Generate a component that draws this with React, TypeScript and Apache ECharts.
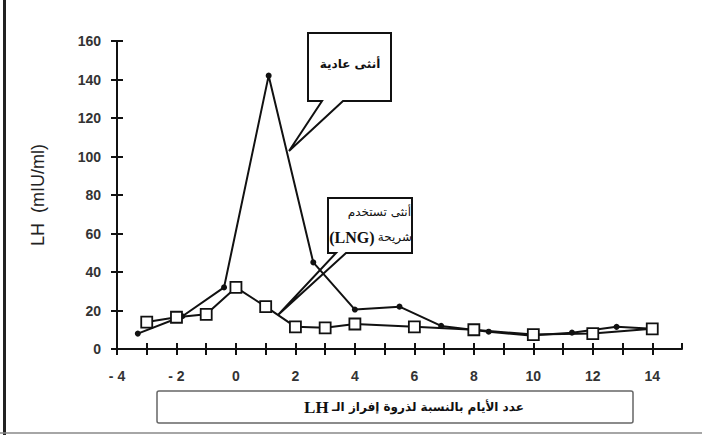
import React, { useEffect, useRef } from "react";
import * as echarts from "echarts";

// Days relative to the LH peak, LH in mIU/ml
const normalDays = [-3.3, -1.8, -0.4, 1.1, 2.6, 4.0, 5.5, 6.9, 8.5, 9.9, 11.3, 12.8, 14];
const normalLH = [8, 17, 32, 142, 45, 20.5, 22, 12, 9, 7, 8.5, 11.5, 10.5];
const lngDays = [-3, -2, -1, 0, 1, 2, 3, 4, 6, 8, 10, 12, 14];
const lngLH = [14, 16.5, 18, 32, 22, 11.5, 11, 13, 11.5, 10, 7.5, 8, 10.5];
const xTickLabels = ["- 4", "- 2", "0", "2", "4", "6", "8", "10", "12", "14"];
const xLabelValues = [-4, -2, 0, 2, 4, 6, 8, 10, 12, 14];

const yAxisName = "LH  (mIU/ml)";
const calloutNormal = "أنثى عادية";
const calloutLng1 = "أنثى تستخدم";
const calloutLng2 = "شريحة";
const xTitleArabic = "عدد الأيام بالنسبة لذروة إفراز الـ";

export default function App() {
  const ref = useRef<HTMLDivElement>(null);
  useEffect(() => {
    if (!ref.current) return;
    const chart = echarts.init(ref.current, undefined, { renderer: "svg" });
    const ink = "#111";
    const xLabel = (v: number) => {
      const i = xLabelValues.indexOf(v);
      return i >= 0 ? xTickLabels[i] : "";
    };
    const axisLabelStyle = { color: "#333", fontFamily: "Arial, Liberation Sans, sans-serif", fontWeight: "bold" as const, fontSize: 14 };
    const arabicFont = "DejaVu Sans, Noto Sans, sans-serif";
    chart.setOption({
      animation: false,
      grid: { left: 117, right: 20, top: 41, bottom: 86 },
      xAxis: [
        {
          type: "value", min: -4, max: 15, interval: 1,
          axisLine: { onZero: false, lineStyle: { color: ink, width: 2 } },
          axisTick: { show: true, length: 6, lineStyle: { color: ink, width: 2 } },
          axisLabel: { ...axisLabelStyle, margin: 20, formatter: xLabel, showMaxLabel: false },
          splitLine: { show: false },
        },
        {
          type: "value", min: -4, max: 15, interval: 1, position: "bottom",
          axisLine: { show: false, onZero: false },
          axisTick: { show: true, inside: true, length: 6, lineStyle: { color: ink, width: 2 } },
          axisLabel: { show: false },
          splitLine: { show: false },
        },
      ],
      yAxis: [
        {
          type: "value", min: 0, max: 160, interval: 20,
          name: yAxisName, nameLocation: "middle", nameGap: 70, nameRotate: 90,
          nameTextStyle: { fontFamily: "Arial, Liberation Sans, sans-serif", fontSize: 18, color: "#222" },
          axisLine: { show: true, onZero: false, lineStyle: { color: ink, width: 2 } },
          axisTick: { show: true, length: 6, lineStyle: { color: ink, width: 2 } },
          axisLabel: { ...axisLabelStyle, margin: 16 },
          splitLine: { show: false },
        },
        {
          type: "value", min: 0, max: 160, interval: 20, position: "left",
          axisLine: { show: false, onZero: false },
          axisTick: { show: true, inside: true, length: 6, lineStyle: { color: ink, width: 2 } },
          axisLabel: { show: false },
          splitLine: { show: false },
        },
      ],
      series: [
        {
          type: "line", z: 3,
          data: normalDays.map((d, i) => ({
            value: [d, normalLH[i]],
            symbol: i === normalDays.length - 1 ? "none" : "circle",
          })),
          symbolSize: 6,
          itemStyle: { color: ink },
          lineStyle: { color: ink, width: 2 },
        },
        {
          type: "line", z: 4,
          data: lngDays.map((d, i) => [d, lngLH[i]]),
          symbol: "rect", symbolSize: 11,
          itemStyle: { color: "#fff", borderColor: ink, borderWidth: 1.8 },
          lineStyle: { color: ink, width: 2 },
        },
      ],
      graphic: [
        { type: "line", z: 1, shape: { x1: 4.5, y1: 0, x2: 4.5, y2: 435 }, style: { stroke: "#222", lineWidth: 3 } },
        { type: "line", z: 1, shape: { x1: 0, y1: 433, x2: 702, y2: 433 }, style: { stroke: "#888", lineWidth: 1.5 } },
        {
          type: "polygon", z: 1,
          shape: { points: [[308, 33], [391, 33], [391, 101], [343, 101], [289, 151], [322, 101], [308, 101]] },
          style: { fill: "#fff", stroke: ink, lineWidth: 2 },
        },
        {
          type: "text", z: 5, x: 350, y: 64,
          style: { text: calloutNormal, fontFamily: arabicFont, fontWeight: "bold", fontSize: 12, fill: "#111", align: "center", verticalAlign: "middle" },
        },
        {
          type: "polygon", z: 1,
          shape: { points: [[328, 198], [412, 198], [412, 253], [346, 253], [278, 315], [336, 253], [328, 253]] },
          style: { fill: "#fff", stroke: ink, lineWidth: 2 },
        },
        {
          type: "text", z: 5, x: 411, y: 212,
          style: { text: calloutLng1, fontFamily: arabicFont, fontSize: 12, fill: "#111", align: "right", verticalAlign: "middle" },
        },
        {
          type: "text", z: 5, x: 412, y: 237,
          style: {
            text: "{l|(LNG)} {a|" + calloutLng2 + "}",
            align: "right", verticalAlign: "middle",
            rich: {
              l: { fontFamily: "Liberation Serif, Times New Roman, serif", fontWeight: "bold", fontSize: 16, fill: "#111" },
              a: { fontFamily: arabicFont, fontSize: 12, fill: "#111" },
            },
          },
        },
        {
          type: "rect", z: 1,
          shape: { x: 157, y: 391, width: 476, height: 32, r: 2 },
          style: { fill: "#fff", stroke: "#666", lineWidth: 1.5 },
        },
        {
          type: "text", z: 5, x: 414, y: 407,
          style: {
            text: "{l|LH} {a|" + xTitleArabic + "}",
            align: "center", verticalAlign: "middle",
            rich: {
              l: { fontFamily: "Liberation Serif, Times New Roman, serif", fontWeight: "bold", fontSize: 17, fill: "#111" },
              a: { fontFamily: arabicFont, fontWeight: "bold", fontSize: 12, fill: "#111" },
            },
          },
        },
      ],
    });
    return () => chart.dispose();
  }, []);
  return <div ref={ref} style={{ position: "fixed", left: 0, top: 0, width: 702, height: 435, background: "#fff" }} />;
}
